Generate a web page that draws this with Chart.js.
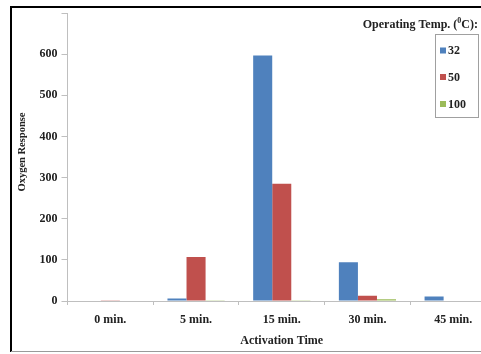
<!DOCTYPE html>
<html>
<head>
<meta charset="utf-8">
<script src="https://cdn.jsdelivr.net/npm/chart.js@4"></script>
<style>
html,body{margin:0;padding:0;background:#fff;overflow:hidden;}
#wrap{width:481px;height:354px;overflow:hidden;position:relative;}
canvas{display:block;}
</style>
</head>
<body>
<div id="wrap"><canvas id="c" width="496" height="354"></canvas></div>
<script>
const categories = ['0 min.', '5 min.', '15 min.', '30 min.', '45 min.'];
const seriesNames = ['32', '50', '100'];
const values32 = [0, 6, 597, 94, 11];
const values50 = [2, 107, 285, 13, 0];
const values100 = [0, 2, 2, 4, 0];
const yTicks = [0, 100, 200, 300, 400, 500, 600, 700];
const yTitle = 'Oxygen Response';
const xTitle = 'Activation Time';
const colors = ['#4f81bd', '#c0504d', '#9bbb59'];
const FONT = "'Liberation Serif', 'Times New Roman', serif";

const framePlugin = {
  id: 'frame',
  afterDraw(chart) {
    const ctx = chart.ctx;
    ctx.save();
    // outer frame
    ctx.strokeStyle = '#000';
    ctx.lineWidth = 2;
    ctx.beginPath();
    ctx.moveTo(11, 352); ctx.lineTo(11, 7); ctx.lineTo(496, 7);
    ctx.stroke();
    ctx.strokeStyle = '#9a9a9a';
    ctx.lineWidth = 1;
    ctx.beginPath();
    ctx.moveTo(11, 351.5); ctx.lineTo(496, 351.5);
    ctx.stroke();
    // y title
    ctx.save();
    ctx.translate(22, 152);
    ctx.rotate(-Math.PI / 2);
    ctx.font = 'bold 10.5px ' + FONT;
    ctx.fillStyle = '#222';
    ctx.textAlign = 'center';
    ctx.textBaseline = 'middle';
    ctx.fillText(yTitle, 0, 0);
    ctx.restore();
    // legend title
    ctx.fillStyle = '#222';
    ctx.textBaseline = 'alphabetic';
    ctx.textAlign = 'left';
    const big = 'bold 12px ' + FONT, small = 'bold 8px ' + FONT;
    const p1 = 'Operating Temp. (', p2 = '0', p3 = 'C):';
    ctx.font = big; const w1 = ctx.measureText(p1).width, w3 = ctx.measureText(p3).width;
    ctx.font = small; const w2 = ctx.measureText(p2).width;
    let x = 478 - (w1 + w2 + w3);
    const y = 27.5;
    ctx.font = big; ctx.fillText(p1, x, y); x += w1;
    ctx.font = small; ctx.fillText(p2, x, y - 5); x += w2;
    ctx.font = big; ctx.fillText(p3, x, y);
    // legend box
    ctx.strokeStyle = '#a0a0a0';
    ctx.lineWidth = 1;
    ctx.strokeRect(435.5, 34.5, 43, 83);
    const rowsY = [50.5, 77, 104];
    chart.data.datasets.forEach((ds, i) => {
      ctx.fillStyle = ds.backgroundColor;
      ctx.fillRect(440, rowsY[i] - 3, 6, 6);
      ctx.fillStyle = '#222';
      ctx.font = big;
      ctx.textBaseline = 'middle';
      ctx.fillText(ds.label, 448, rowsY[i] + 0.5);
    });
    ctx.restore();
  }
};

new Chart(document.getElementById('c'), {
  type: 'bar',
  data: {
    labels: categories,
    datasets: [
      { label: seriesNames[0], data: values32, backgroundColor: colors[0] },
      { label: seriesNames[1], data: values50, backgroundColor: colors[1] },
      { label: seriesNames[2], data: values100, backgroundColor: colors[2] }
    ]
  },
  options: {
    responsive: false,
    animation: false,
    devicePixelRatio: 1,
    layout: { padding: { left: 10, top: 13, right: 0, bottom: 0 } },
    datasets: { bar: { categoryPercentage: 0.667, barPercentage: 1.0 } },
    plugins: { legend: { display: false }, tooltip: { enabled: false } },
    scales: {
      x: {
        grid: { display: true, drawOnChartArea: false, drawTicks: true, tickLength: 4, color: '#bfbfbf', offset: true },
        border: { color: '#bfbfbf', width: 1 },
        ticks: { color: '#222', font: { family: FONT, size: 12, weight: 'bold' }, padding: 8, maxRotation: 0, autoSkip: false },
        title: { display: true, text: xTitle, color: '#222', font: { family: FONT, size: 12, weight: 'bold' }, padding: { top: 0, bottom: 6 } },
        afterFit(s) { s.height = 53; }
      },
      y: {
        min: 0, max: 700,
        afterBuildTicks(s) { s.ticks = yTicks.map(v => ({ value: v })); },
        grid: { display: true, drawOnChartArea: false, drawTicks: true, tickLength: 6, color: '#bfbfbf' },
        border: { color: '#bfbfbf', width: 1 },
        ticks: { color: '#222', font: { family: FONT, size: 12, weight: 'bold' }, padding: 4,
          callback: (v) => v === 700 ? '' : v },
        title: { display: false },
        afterFit(s) { s.width = 57.5; }
      }
    }
  },
  plugins: [framePlugin]
});
</script>
</body>
</html>
